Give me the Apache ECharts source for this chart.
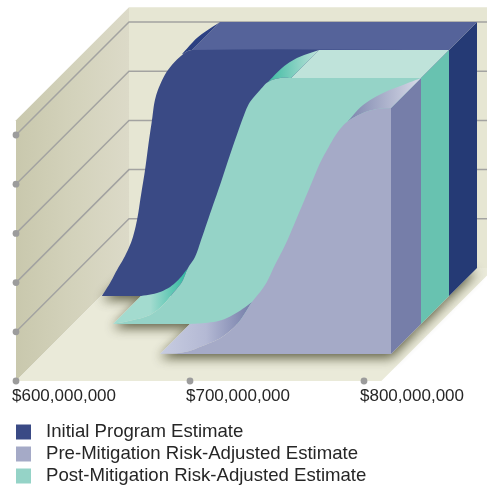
<!DOCTYPE html>
<html><head><meta charset="utf-8">
<style>html,body{margin:0;padding:0;background:#fff}#c{width:487px;height:487px}</style>
<script src="https://cdn.jsdelivr.net/npm/echarts@6/dist/echarts.min.js"></script>
</head><body><div id="c"></div>
<script>
// Cost axis in $ millions, height in percent of the full scale
const xTicks = [600, 700, 800];
const yTicks = [0, 20, 40, 60, 80, 100];
const seriesNames = ['Initial Program Estimate', 'Pre-Mitigation Risk-Adjusted Estimate', 'Post-Mitigation Risk-Adjusted Estimate'];

const initialCost = [600.5,605.2,609.2,613.8,617.8,620.7,623,625.3,627.6,629.3,631,633.9,638.5,646.6,652.3,800];
const initialPct  = [0,5.3,10.6,16.3,22.8,30.9,41.1,51.2,63.4,71.5,79.7,85.8,91.9,98,100,100];
const initialEdgeCost = [630.5,639.7,652.3];
const initialEdgePct  = [87,93.9,100];

const postCost = [623,634.5,644.3,651.7,657.5,662.6,666.1,670.1,673.6,678.7,684.5,690.2,698.3,701.7,707.5,712.1,719,725.3,800];
const postPct  = [0,1.6,3.7,7.7,12.6,17.1,22.8,27.2,34.1,44.7,56.5,68.7,85,90.2,95.1,98.4,100,100,100];
const postTailCost = [623,632.2,639.7,645.4,650];
const postTailPct  = [0,1.2,3.7,7.3,11.4];
const postEdgeCost = [696,704,712.6,725.3];
const postEdgePct  = [87,92.7,96.7,100];

const preCost = [667.2,681.6,693.1,702.9,712.1,720.1,727.6,733.3,739.7,746.6,753.4,759.2,763.2,769,774.7,783.9,792,800];
const prePct  = [0,0.8,3.7,6.9,12.6,21.1,28,36.2,45.1,56.5,67.9,77.6,82.9,89.8,94.3,98,99.6,100];
const preTailCost = [667.2,675.9,685.6,694.8,702.9];
const preTailPct  = [0,0.4,1.6,4.9,8.9];
const preEdgeCost = [757.5,766.7,778.2,789.7,800];
const preEdgePct  = [82.1,89,93.9,97.2,100];

const zip = (a, b) => a.map((v, i) => [v, b[i]]);

const FLOOR_DEPTH = 113, WALL_TOP = 106, FLOOR_END = 810;
const layers = [
  {name: seriesNames[0], front: zip(initialCost, initialPct), tail: [], edge: zip(initialEdgeCost, initialEdgePct),
   d0: 85, d1: 113, face: '#3A4A85', top: '#55639A', side: '#253A75',
   tailC: ['#3A4A85', '#3A4A85'], edgeC: ['#2A3F80', '#2F4286']},
  {name: seriesNames[2], front: zip(postCost, postPct), tail: zip(postTailCost, postTailPct), edge: zip(postEdgeCost, postEdgePct),
   d0: 57, d1: 85, face: '#95D3C7', top: '#BFE3DA', side: '#68C2B0',
   tailC: ['#A3DBCF', '#A3DBCF', '#2DB89F'], edgeC: ['#3FBBA3', '#BFE3DA']},
  {name: seriesNames[1], front: zip(preCost, prePct), tail: zip(preTailCost, preTailPct), edge: zip(preEdgeCost, preEdgePct),
   d0: 27, d1: 57, face: '#A5AAC7', top: null, side: '#767EA9',
   tailC: ['#C8CDE1', '#B4B9D4', '#747DA8'], edgeC: ['#7C85AD', '#D8DBE8']}
];
const legendColor = {[seriesNames[0]]: '#3A4A85', [seriesNames[1]]: '#A5AAC7', [seriesNames[2]]: '#95D3C7'};

function proj(api, p, d) { const c = api.coord(p); return [c[0] + d, c[1] - d]; }
function curve(pts) {           // smooth drawing through the read points
  const n = pts.length;
  const tan = pts.map((p, i) => {
    const a = pts[Math.max(i - 1, 0)], c = pts[Math.min(i + 1, n - 1)];
    const dx = c[0] - a[0], dy = c[1] - a[1], l = Math.hypot(dx, dy) || 1;
    return [dx / l, dy / l];
  });
  const out = [];
  for (let i = 0; i < n - 1; i++) {
    const b = pts[i], c = pts[i + 1], L = Math.hypot(c[0] - b[0], c[1] - b[1]);
    for (let k = 0; k < 6; k++) {
      const t = k / 6, t2 = t * t, t3 = t2 * t;
      out.push([0, 1].map(j => (2 * t3 - 3 * t2 + 1) * b[j] + (t3 - 2 * t2 + t) * L * tan[i][j] + (-2 * t3 + 3 * t2) * c[j] + (t3 - t2) * L * tan[i + 1][j]));
    }
  }
  out.push(pts[n - 1].slice());
  return out;
}
function poly(points, style) { return {type: 'polygon', shape: {points}, style}; }
const hGrad = (cols) => new echarts.graphic.LinearGradient(0, 0, 1, 0, cols.map((c, i) => ({offset: i / (cols.length - 1), color: c})));

function renderStage(params, api) {
  if (params.dataIndex !== 0) return null;
  const ch = [];
  const D = FLOOR_DEPTH, x0 = xTicks[0], xE = FLOOR_END;
  ch.push(poly([proj(api, [x0, 0], 0), proj(api, [x0, WALL_TOP], 0), proj(api, [x0, WALL_TOP], D), proj(api, [x0, 0], D)],
    {fill: hGrad(['#C9C8AD', '#D3D2BB', '#DCDAC8'])}));
  ch.push(poly([proj(api, [x0, 0], D), proj(api, [x0, WALL_TOP], D), proj(api, [xE, WALL_TOP], D), proj(api, [xE, 0], D)], {fill: '#E6E6D3'}));
  ch.push(poly([proj(api, [x0, 0], 0), proj(api, [xE, 0], 0), proj(api, [xE, 0], D), proj(api, [x0, 0], D)], {fill: '#EAEAD9'}));
  yTicks.slice(1).forEach(v => {
    ch.push({type: 'polyline', shape: {points: [proj(api, [x0, v], 0), proj(api, [x0, v], D), proj(api, [xE, v], D)]},
      style: {fill: null, stroke: '#A3A3A1', lineWidth: 1.5}});
  });
  yTicks.slice(1).map(v => [x0, v]).concat(xTicks.map(v => [v, 0])).forEach(p => {
    const c = api.coord(p);
    ch.push({type: 'circle', shape: {cx: c[0], cy: c[1], r: 3.4}, style: {fill: '#9C9C9C'}});
  });
  layers.forEach(L => {
    const a = L.front[0], b = [xTicks[2], 0];
    ch.push(poly([proj(api, a, L.d0), proj(api, b, L.d0), proj(api, b, L.d1), proj(api, a, L.d1)],
      {fill: '#EAEAD9', shadowBlur: 12, shadowColor: 'rgba(45,45,15,0.75)', shadowOffsetX: 0, shadowOffsetY: 4}));
  });
  return {type: 'group', children: ch};
}

function makeRender(L) {
  return function (params, api) {
    if (params.dataIndex !== 0) return null;
    const ch = [];
    const F = curve(L.front.map(p => proj(api, p, L.d0)));
    const rb = [xTicks[2], 0], rt = [xTicks[2], 100];
    ch.push(poly([proj(api, rb, L.d0), proj(api, rt, L.d0), proj(api, rt, L.d1), proj(api, rb, L.d1)], {fill: L.side}));
    if (L.tail.length) {
      const B = curve(L.tail.map(p => proj(api, p, L.d1)));
      const yEnd = B[B.length - 1][1];
      const fs = F.filter(p => p[1] >= yEnd - 0.01);
      ch.push(poly(fs.concat(B.slice().reverse()), {fill: hGrad(L.tailC)}));
    }
    if (L.top) {
      const last = L.edge[L.edge.length - 1];
      ch.push(poly([proj(api, last, L.d0), proj(api, last, L.d1), proj(api, rt, L.d1), proj(api, rt, L.d0)], {fill: L.top}));
    }
    {
      const B = curve(L.edge.map(p => proj(api, p, L.d1)));
      const y0 = B[0][1];
      const xMax = proj(api, L.edge[L.edge.length - 1], L.d0)[0];
      const fs = F.filter(p => p[1] <= y0 + 0.01 && p[0] <= xMax + 0.01);
      ch.push(poly(fs.concat(B.slice().reverse()), {fill: hGrad(L.edgeC)}));
    }
    ch.push(poly(F.concat([proj(api, rb, L.d0)]), {fill: L.face}));
    return {type: 'group', children: ch};
  };
}

const chart = echarts.init(document.getElementById('c'), null, {renderer: 'canvas'});
const FONT = '"Liberation Sans", Arial, sans-serif';
chart.setOption({
  animation: false,
  backgroundColor: '#fff',
  grid: {left: 16, right: 123, top: 135, bottom: 106, containLabel: false},
  xAxis: {type: 'value', min: 600, max: 800, interval: 100, splitLine: {show: false}, axisLine: {show: false}, axisTick: {show: false},
    axisLabel: {show: true, margin: 7, align: 'left', padding: [0, 0, 0, -4], color: '#262626', fontSize: 17, fontFamily: FONT,
      formatter: v => '$' + v + ',000,000'}},
  yAxis: {type: 'value', min: 0, max: 100, interval: 20, show: false, splitLine: {show: false}},
  legend: {orient: 'vertical', left: 16, top: 421, padding: 0, itemWidth: 15, itemHeight: 15, itemGap: 0, icon: 'rect', selectedMode: false,
    data: seriesNames, textStyle: {color: '#262626', fontSize: 18.6, lineHeight: 22, fontFamily: FONT, padding: [0, 0, 0, 10]}},
  series: [
    {type: 'custom', coordinateSystem: 'cartesian2d', silent: true, renderItem: renderStage, data: [[600, 0]], encode: {x: 0, y: 1}}
  ].concat(layers.map(L => ({
    name: L.name, type: 'custom', coordinateSystem: 'cartesian2d', silent: true, clip: false,
    itemStyle: {color: legendColor[L.name]}, renderItem: makeRender(L), data: L.front, encode: {x: 0, y: 1}
  })))
});
</script></body></html>
